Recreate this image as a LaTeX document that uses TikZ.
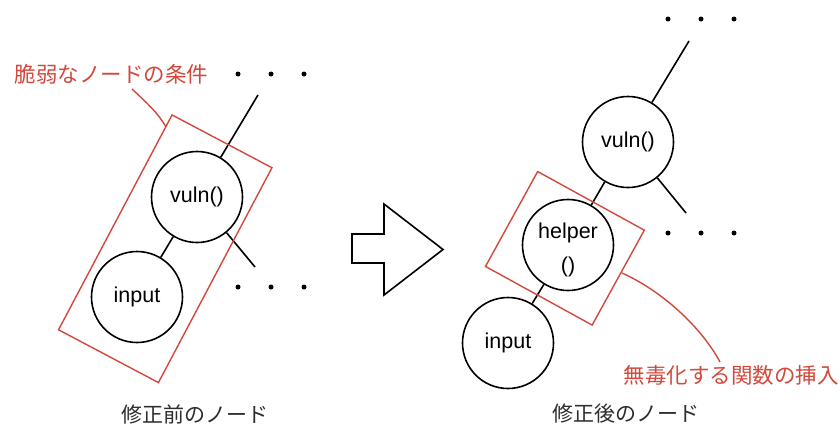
\documentclass[tikz,border=0pt]{standalone}
\usepackage{fontspec}
\setmainfont{Liberation Sans}
\newfontfamily\jp{Noto Sans CJK JP}
\definecolor{markred}{RGB}{210,72,60}
\definecolor{captiongray}{RGB}{45,45,45}
\tikzset{
  fn/.style={draw, line width=1.6pt, circle, minimum size=91pt, inner sep=0pt,
             font=\fontsize{21.5}{25}\selectfont},
  edge/.style={line width=1.6pt},
  dot/.style={fill, circle, minimum size=5pt, inner sep=0pt},
  frame/.style={draw=markred, line width=1.4pt, inner sep=0pt},
  leader/.style={draw=markred, line width=1.4pt},
  note/.style={text=markred, font=\jp\fontsize{21.5}{24}\selectfont, inner sep=0pt},
  caption/.style={text=captiongray, font=\jp\fontsize{21}{24}\selectfont, inner sep=0pt},
  shift arrow/.style={draw, line width=1.6pt, line join=miter},
}
\begin{document}
\begin{tikzpicture}[x=1pt, y=-1pt]
  \useasboundingbox (0,0) rectangle (840,429);

  % ---------- before ----------
  \node[fn] (vulnA) at (197,197) {vuln()};
  \node[fn] (inputA) at (137,297) {input};
  \coordinate (upA) at (258,95);
  \coordinate (downA) at (255,267);
  \draw[edge] (vulnA) -- (inputA);
  \draw[edge] (vulnA) -- (upA);
  \draw[edge] (vulnA) -- (downA);
  \foreach \i/\x in {1/238, 2/271, 3/304} {
    \node[dot] (topdotA\i) at (\x,74) {};
    \node[dot] (lowdotA\i) at (\x,287) {};
  }
  \node[frame, rotate=-27.85, minimum width=113pt, minimum height=243pt]
    (condA) at (165.25,248.75) {};
  \node[note] (condlabel) at (111.5,74) {脆弱なノードの条件};
  \coordinate (condend) at (166,127);
  \draw[leader] (132,89) .. controls (148,104) and (158,113) .. (condend);
  \node[caption] (capA) at (195,414) {修正前のノード};

  % ---------- transition arrow ----------
  \draw[shift arrow] (352,234) -- (384,234) -- (384,204) -- (443,249.5)
    -- (384,295) -- (384,263) -- (352,263) -- cycle;

  % ---------- after ----------
  \node[fn] (vulnB) at (628,142) {vuln()};
  \node[fn] (helperB) at (568,245) {};
  \node[align=center, inner sep=0pt, font=\fontsize{21.5}{34}\selectfont]
    (helpertext) at (568,250) {helper\\()};
  \node[fn] (inputB) at (508,343) {input};
  \coordinate (upB) at (689,41);
  \coordinate (downB) at (686,213);
  \draw[edge] (vulnB) -- (helperB);
  \draw[edge] (helperB) -- (inputB);
  \draw[edge] (vulnB) -- (upB);
  \draw[edge] (vulnB) -- (downB);
  \foreach \i/\x in {1/668, 2/701, 3/734} {
    \node[dot] (topdotB\i) at (\x,19) {};
    \node[dot] (middotB\i) at (\x,233) {};
  }
  \node[frame, rotate=-28.8, minimum width=121.7pt, minimum height=108.3pt]
    (insertB) at (564.9,248.3) {};
  \coordinate (insertstart) at (622,273);
  \node[note] (insertlabel) at (731,375) {無毒化する関数の挿入};
  \draw[leader] (insertstart) .. controls (660,290) and (700,325) .. (720,362);
  \node[caption] (capB) at (625.5,414) {修正後のノード};
\end{tikzpicture}
\end{document}
